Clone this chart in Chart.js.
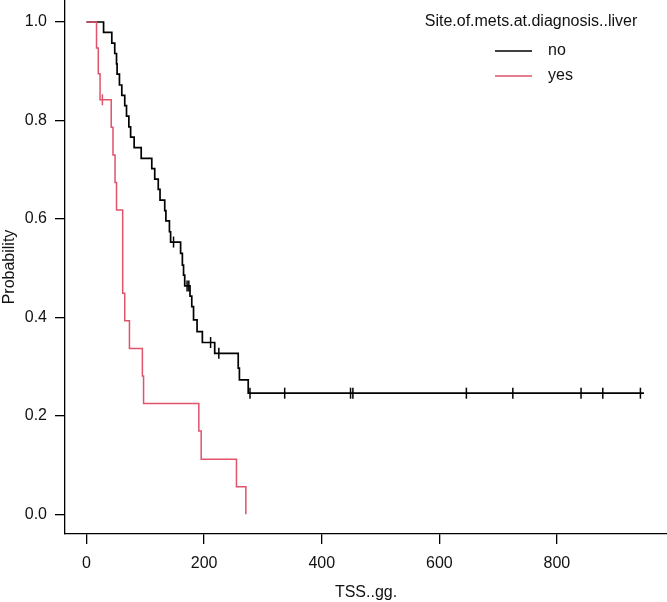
<!DOCTYPE html>
<html>
<head>
<meta charset="utf-8">
<script src="https://cdn.jsdelivr.net/npm/chart.js@4.4.1/dist/chart.umd.min.js"></script>
<style>
  body { margin: 0; background: #fff; }
  #wrap { width: 667px; height: 602px; }
</style>
</head>
<body>
<div id="wrap"><canvas id="km-chart"></canvas></div>
<script>
// Kaplan-Meier steps (time, survival after the drop)
var noTime = [0, 29, 43, 48, 51, 52, 56, 60, 65, 68, 72, 75, 81, 93, 111, 116, 122, 125, 133, 135,
              141, 143, 160, 163, 165, 167, 176, 179, 182, 188, 197, 218, 258, 260, 275];
var noSurv = [1.0, 0.979, 0.957, 0.936, 0.915, 0.894, 0.872, 0.851, 0.830, 0.809, 0.787, 0.766, 0.745, 0.723, 0.702, 0.681, 0.660, 0.638, 0.617, 0.596,
              0.574, 0.553, 0.530, 0.506, 0.486, 0.464, 0.443, 0.422, 0.395, 0.371, 0.349, 0.327, 0.297, 0.273, 0.246];
var noLast = 948;
var noCensor = [148, 171, 174, 211, 225, 278, 337, 449, 453, 646, 725, 841, 878, 942];

var yesTime = [0, 17, 20, 23, 42, 45, 48.5, 51, 61.5, 65, 73, 95, 97, 191, 195, 255, 271];
var yesSurv = [1.0, 0.947, 0.895, 0.842, 0.786, 0.730, 0.674, 0.618, 0.449, 0.393, 0.337, 0.281, 0.225, 0.169, 0.112, 0.056, 0];
var yesLast = 271;
var yesCensor = [27];

var xTicks = [0, 200, 400, 600, 800];
var yTicks = [0, 0.2, 0.4, 0.6, 0.8, 1.0];
var groups = ["no", "yes"];
var groupColors = ["#000000", "#DF536B"];
var legendTitle = "Site.of.mets.at.diagnosis..liver";

var FONT = '"Liberation Sans", Arial, sans-serif';
Chart.defaults.font.family = FONT;
Chart.defaults.font.size = 16;
Chart.defaults.color = '#111';

function stepPoints(times, surv, last) {
  var pts = [];
  for (var i = 0; i < times.length; i++) pts.push({x: times[i], y: surv[i]});
  if (last > times[times.length - 1]) pts.push({x: last, y: surv[surv.length - 1]});
  return pts;
}

function survAt(times, surv, t) {
  var s = surv[0];
  for (var i = 0; i < times.length; i++) {
    if (times[i] <= t) s = surv[i];
  }
  return s;
}

function censorPoints(times, surv, cens) {
  return cens.map(function(t) { return {x: t, y: survAt(times, surv, t)}; });
}

// legend drawn in the top right of the plot like R's legend()
var kmLegend = {
  id: 'kmLegend',
  afterDraw: function(chart) {
    var ctx = chart.ctx;
    ctx.save();
    ctx.font = '16px ' + FONT;
    ctx.fillStyle = '#111';
    ctx.textBaseline = 'middle';
    ctx.textAlign = 'center';
    ctx.fillText(legendTitle, 531, 22);
    ctx.textAlign = 'left';
    groups.forEach(function(g, i) {
      var y = 51 + i * 25;
      ctx.strokeStyle = groupColors[i];
      ctx.lineWidth = 1.5;
      ctx.beginPath();
      ctx.moveTo(495, y);
      ctx.lineTo(532, y);
      ctx.stroke();
      ctx.fillText(g, 548, y);
    });
    ctx.restore();
  }
};

new Chart(document.getElementById("km-chart"), {
  type: 'line',
  data: {
    datasets: [
      {
        label: groups[0],
        data: stepPoints(noTime, noSurv, noLast),
        stepped: 'before',
        order: 1,
        borderColor: groupColors[0],
        borderWidth: 1.7,
        pointRadius: 0,
        fill: false
      },
      {
        label: groups[1],
        data: stepPoints(yesTime, yesSurv, yesLast),
        stepped: 'before',
        order: 0,
        borderColor: groupColors[1],
        borderWidth: 1.5,
        pointRadius: 0,
        fill: false
      },
      {
        label: groups[0] + ' censored',
        data: censorPoints(noTime, noSurv, noCensor),
        showLine: false,
        order: 1,
        pointStyle: 'line',
        rotation: 90,
        pointRadius: 5.5,
        pointBorderWidth: 1.5,
        borderColor: groupColors[0],
        backgroundColor: groupColors[0]
      },
      {
        label: groups[1] + ' censored',
        data: censorPoints(yesTime, yesSurv, yesCensor),
        showLine: false,
        order: 0,
        pointStyle: 'line',
        rotation: 90,
        pointRadius: 5.5,
        pointBorderWidth: 1.5,
        borderColor: groupColors[1],
        backgroundColor: groupColors[1]
      }
    ]
  },
  options: {
    responsive: true,
    maintainAspectRatio: false,
    animation: false,
    layout: { autoPadding: false, padding: { top: 0, right: 0, bottom: 0, left: 0 } },
    plugins: {
      legend: { display: false },
      tooltip: { enabled: false }
    },
    scales: {
      x: {
        type: 'linear',
        min: -36.6,
        max: 987.2,
        afterBuildTicks: function(scale) {
          scale.ticks = xTicks.map(function(v) { return {value: v}; });
        },
        afterFit: function(scale) {
          scale.height = 68;
          scale.paddingLeft = 0;
          scale.paddingRight = 0;
        },
        ticks: {
          padding: 10,
          maxRotation: 0,
          callback: function(v) { return String(v); }
        },
        grid: {
          drawOnChartArea: false,
          drawTicks: true,
          tickLength: 10,
          color: '#000',
          lineWidth: 1.3
        },
        border: { display: true, color: '#000', width: 1.3 },
        title: {
          display: true,
          text: 'TSS..gg.',
          padding: { top: 0, bottom: 0 }
        }
      },
      y: {
        type: 'linear',
        min: -0.04,
        max: 1.0447,
        afterBuildTicks: function(scale) {
          scale.ticks = yTicks.map(function(v) { return {value: v}; });
        },
        afterFit: function(scale) {
          scale.width = 65;
          scale.paddingTop = 0;
          scale.paddingBottom = 0;
        },
        ticks: {
          padding: 8,
          callback: function(v) { return v.toFixed(1); }
        },
        grid: {
          drawOnChartArea: false,
          drawTicks: true,
          tickLength: 10,
          color: '#000',
          lineWidth: 1.3
        },
        border: { display: true, color: '#000', width: 1.3 },
        title: {
          display: true,
          text: 'Probability',
          padding: { top: 0, bottom: 0 }
        }
      }
    }
  },
  plugins: [kmLegend]
});
</script>
</body>
</html>
